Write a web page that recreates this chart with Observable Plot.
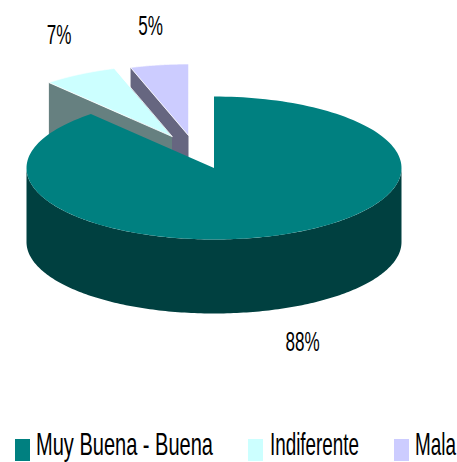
<!DOCTYPE html>
<html><head><meta charset="utf-8">
<script src="https://cdn.jsdelivr.net/npm/d3@7"></script>
<script src="https://cdn.jsdelivr.net/npm/@observablehq/plot@0.6"></script>
<style>
html,body{margin:0;padding:0;background:#fff;overflow:hidden;width:457px;height:462px}
#chart svg{display:block}
#legend{position:relative;height:37px;overflow:hidden;font-family:"Liberation Sans",Arial,sans-serif;font-size:32px;color:#000}
#legend i{position:absolute;top:14px;width:15px;height:22px}
#legend span{position:absolute;top:1px;line-height:36px;white-space:nowrap;transform-origin:left center}
</style></head><body>
<div id="chart"></div><div id="legend"></div>
<script>
const categories = ["Muy Buena - Buena", "Indiferente", "Mala"];
const shares = [88.6, 6.4, 5];
const shareLabels = ["88%", "7%", "5%"];
const topColors = ["#008080", "#CCFFFF", "#CCCCFF"];
const sideColors = ["#004040", "#668080", "#666680"];

// picture geometry (layout only)
const W = 457, H = 425;
const cx = 213.5, cy = 167.5, rx = 187.5, ry = 71.5, depth = 74;
const explode = [[0, 0], [-42, -31.5], [-25.5, -32.5]];
const labelReach = [[253, 186], [229, 116.7], [243, 111]];
const legendX = [[15, 36, 177], [248, 270, 89], [394, 415, 41]];

const total = d3.sum(shares);
const rad = d => d * Math.PI / 180;
const ends = d3.cumsum(shares).map(v => v / total * 360);
const slices = categories.map((name, i) => ({
  i, name, a0: i ? ends[i - 1] : 0, a1: ends[i],
  ox: cx + explode[i][0], oy: cy + explode[i][1]
}));
const rim = (s, a, drop = 0) => ({x: s.ox + rx * Math.sin(rad(a)), y: s.oy - ry * Math.cos(rad(a)) + drop});
const arc = (s, a0, a1, drop = 0) => d3.range(0, 181).map(k => rim(s, a0 + (a1 - a0) * k / 180, drop));

const tag = (pts, part, fill) => pts.map(p => ({...p, part, fill}));
const topFace = s => tag([{x: s.ox, y: s.oy}, ...arc(s, s.a0, s.a1)], "top" + s.i, topColors[s.i]);
const cutFace = s => {
  const e = rim(s, s.a0);
  return tag([{x: s.ox, y: s.oy}, e, {x: e.x, y: e.y + depth}, {x: s.ox, y: s.oy + depth}], "cut" + s.i, sideColors[s.i]);
};
const wall = s => tag([...arc(s, 90, 270), ...arc(s, 270, 90, depth)], "wall" + s.i, sideColors[s.i]);

const [big, mid, small] = slices;
const backFaces = [...cutFace(small), ...topFace(small), ...cutFace(mid), ...topFace(mid)];
const frontFaces = [...wall(big), ...topFace(big)];

const ctx = document.createElement("canvas").getContext("2d");
const fontSize = 28, squeeze = 0.61;
ctx.font = fontSize + "px 'Liberation Sans'";
const labels = slices.map(s => {
  const t = rad((s.a0 + s.a1) / 2);
  return {
    x: s.ox + labelReach[s.i][0] * Math.sin(t),
    y: s.oy - labelReach[s.i][1] * Math.cos(t),
    text: shareLabels[s.i]
  };
});

const poly = (data, extra = {}) => Plot.line(data, {x: "x", y: "y", z: "part", fill: "fill", stroke: "none", curve: "linear", ...extra});

const plot = Plot.plot({
  width: W, height: H, margin: 0,
  x: {domain: [0, W], range: [0, W], axis: null},
  y: {domain: [0, H], range: [0, H], axis: null},
  color: {type: "identity"},
  style: {background: "#fff"},
  marks: [
    poly(backFaces),
    Plot.line(backFaces.filter(d => d.part.startsWith("top")), {x: "x", y: "y", z: "part", stroke: "#fff", strokeWidth: 0.8, curve: "linear-closed"}),
    poly(frontFaces),
    Plot.text(labels, {x: "x", y: "y", text: "text", fontSize, fontFamily: "'Liberation Sans',Arial,sans-serif", fill: "#000"})
  ]
});
d3.select(plot).selectAll("text")
  .filter(function () { return shareLabels.includes(this.textContent); })
  .attr("lengthAdjust", "spacingAndGlyphs")
  .attr("textLength", function () { return ctx.measureText(this.textContent).width * squeeze; });
document.getElementById("chart").append(plot);

const legend = d3.select("#legend");
categories.forEach((name, i) => {
  const [sx, tx, tw] = legendX[i];
  legend.append("i").style("left", sx + "px").style("background", topColors[i]);
  const sp = legend.append("span").style("left", tx + "px").text(name);
  const w = sp.node().getBoundingClientRect().width;
  sp.style("transform", `scaleX(${tw / w})`);
});
</script>
</body></html>
